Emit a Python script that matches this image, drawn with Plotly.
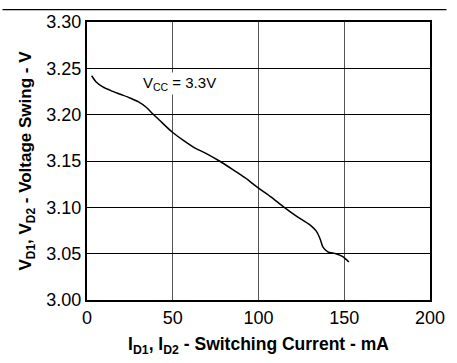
import plotly.graph_objects as go

current_ma = [2.7, 5.5, 9.2, 13.9, 19.5, 25.1, 29.8, 34.5, 38.3, 42.3, 49.8, 56.4, 63.0, 69.6,
              77.2, 84.8, 92.1, 99.8, 107.4, 115.0, 122.5, 130.0, 133.8, 136.1, 137.6, 140.4,
              145.1, 148.9, 152.7]
swing_v = [3.242, 3.235, 3.230, 3.226, 3.222, 3.218, 3.214, 3.208, 3.201, 3.194, 3.181, 3.172,
           3.164, 3.158, 3.150, 3.141, 3.132, 3.121, 3.111, 3.100, 3.090, 3.081, 3.074, 3.065,
           3.057, 3.052, 3.050, 3.047, 3.041]
x_ticks = [0, 50, 100, 150, 200]
y_ticks = [3.00, 3.05, 3.10, 3.15, 3.20, 3.25, 3.30]

FONT = "Liberation Sans, Arial, sans-serif"

fig = go.Figure()
fig.add_trace(go.Scatter(x=current_ma, y=swing_v, mode="lines",
                         line=dict(color="black", width=1.5, shape="spline", smoothing=0.8),
                         showlegend=False, hoverinfo="skip"))

fig.add_annotation(x=54, y=3.234, xref="x", yref="y", text="V<sub>CC</sub> = 3.3V",
                   showarrow=False, xanchor="center", yanchor="middle",
                   font=dict(family=FONT, size=15, color="black"),
                   bgcolor="white", borderpad=1)

# rule line at top of the page
fig.add_shape(type="line", xref="paper", yref="paper",
              x0=-87/353, x1=370/353, y0=(308-5)/290, y1=(308-5)/290,
              line=dict(color="black", width=1.2))

fig.update_layout(
    width=457, height=363,
    margin=dict(l=87, r=17, t=18, b=55),
    paper_bgcolor="white", plot_bgcolor="white",
    font=dict(family=FONT, color="black"),
    xaxis=dict(range=[0, 200], tickvals=x_ticks, ticktext=[str(v) for v in x_ticks],
               showgrid=True, gridcolor="#555555", gridwidth=1,
               showline=True, linecolor="black", linewidth=2, mirror=True,
               ticks="", zeroline=False, tickfont=dict(size=18, family=FONT),
               title=dict(text="<b>I<sub>D1</sub>, I<sub>D2</sub> - Switching Current - mA</b>",
                          font=dict(size=17.5, family=FONT), standoff=11)),
    yaxis=dict(range=[3.00, 3.30], tickvals=y_ticks, ticktext=[f"{v:.2f}" for v in y_ticks],
               showgrid=True, gridcolor="black", gridwidth=1,
               showline=True, linecolor="black", linewidth=2, mirror=True,
               ticks="", zeroline=False, tickfont=dict(size=18, family=FONT),
               title=dict(text="<b>V<sub>D1</sub>, V<sub>D2</sub> - Voltage Swing - V</b>",
                          font=dict(size=17, family=FONT), standoff=10)),
)

fig.write_html("out.html", config={"displayModeBar": False})
with open("out.html", "r", encoding="utf-8") as f:
    html = f.read()
html = html.replace("<head>", "<head><style>html,body{margin:0;padding:0;overflow:hidden;}</style>", 1)
with open("out.html", "w", encoding="utf-8") as f:
    f.write(html)
